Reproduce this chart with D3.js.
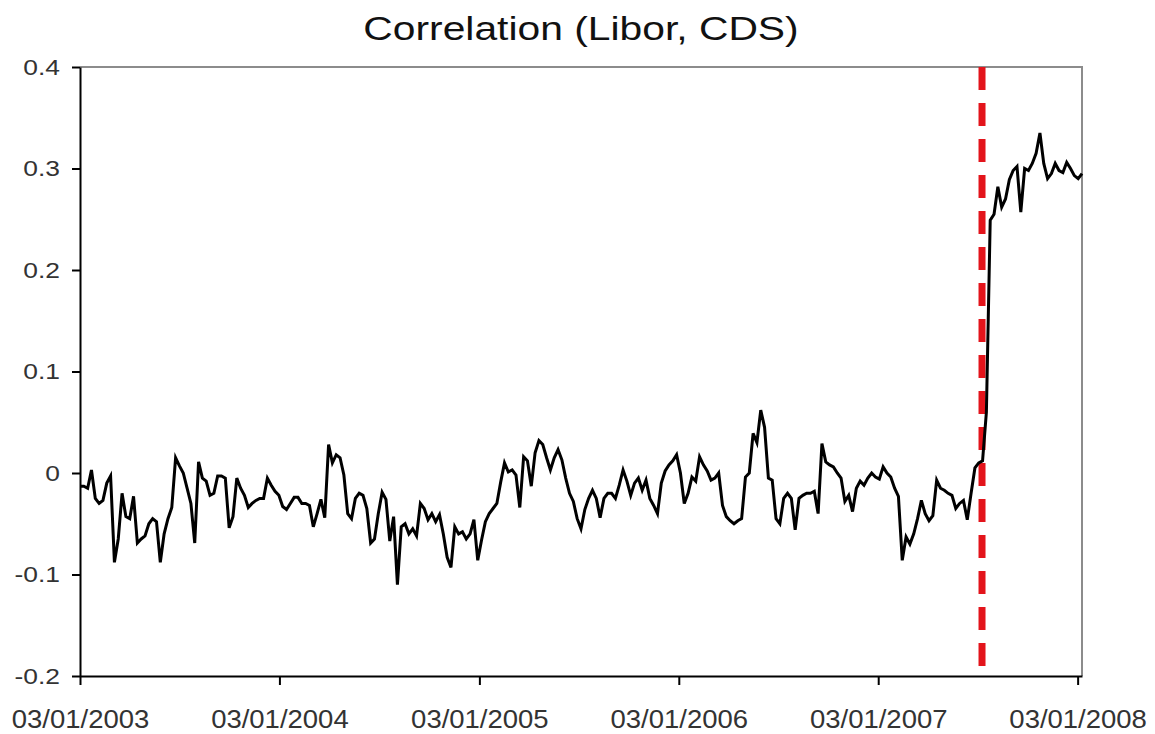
<!DOCTYPE html>
<html>
<head>
<meta charset="utf-8">
<script src="https://cdn.jsdelivr.net/npm/d3@7"></script>
<style>
  body { margin: 0; background: #fff; }
</style>
</head>
<body>
<div id="chart"></div>
<script>
const title = 'Correlation (Libor, CDS)';

// weekly observations, first one on 03/01/2003
const firstWeek = '2003-01-03';
const corr = [
  -0.013, -0.013, -0.015, 0.003, -0.025, -0.03, -0.027, -0.01, -0.003, -0.088,
  -0.065, -0.02, -0.043, -0.045, -0.023, -0.069, -0.065, -0.062, -0.05, -0.045,
  -0.048, -0.088, -0.06, -0.045, -0.034, 0.015, 0.007, 0.0, -0.015, -0.03,
  -0.069, 0.011, -0.005, -0.008, -0.022, -0.02, -0.003, -0.003, -0.005, -0.054,
  -0.043, -0.005, -0.015, -0.022, -0.034, -0.03, -0.027, -0.025, -0.025, -0.005,
  -0.012, -0.018, -0.022, -0.033, -0.036, -0.03, -0.024, -0.024, -0.03, -0.03,
  -0.032, -0.053, -0.04, -0.026, -0.044, 0.028, 0.01, 0.018, 0.015, -0.002,
  -0.04, -0.045, -0.025, -0.02, -0.022, -0.035, -0.069, -0.065, -0.04, -0.019,
  -0.026, -0.067, -0.043, -0.11, -0.053, -0.05, -0.06, -0.055, -0.062, -0.03,
  -0.035, -0.046, -0.04, -0.048, -0.041, -0.06, -0.083, -0.093, -0.053, -0.06,
  -0.058, -0.065, -0.06, -0.046, -0.086, -0.066, -0.048, -0.04, -0.035, -0.03,
  -0.009, 0.01, 0.001, 0.003, -0.002, -0.034, 0.016, 0.012, -0.013, 0.02,
  0.032, 0.028, 0.015, 0.003, 0.015, 0.023, 0.013, -0.005, -0.02, -0.028,
  -0.045, -0.055, -0.036, -0.025, -0.017, -0.025, -0.044, -0.025, -0.02, -0.02,
  -0.025, -0.012, 0.003, -0.008, -0.022, -0.01, -0.005, -0.017, -0.007, -0.025,
  -0.032, -0.04, -0.01, 0.002, 0.008, 0.012, 0.018, 0.0, -0.03, -0.02,
  -0.004, -0.008, 0.016, 0.008, 0.002, -0.007, -0.005, 0.0, -0.032, -0.043,
  -0.047, -0.05, -0.047, -0.045, -0.004, 0.0, 0.039, 0.03, 0.062, 0.045,
  -0.005, -0.007, -0.045, -0.05, -0.025, -0.02, -0.025, -0.056, -0.025, -0.022,
  -0.02, -0.02, -0.018, -0.04, 0.029, 0.011, 0.008, 0.006, 0.0, -0.005,
  -0.028, -0.022, -0.038, -0.015, -0.008, -0.012, -0.005, 0.0, -0.004, -0.006,
  0.006, 0.0, -0.004, -0.015, -0.023, -0.086, -0.063, -0.07, -0.06, -0.045,
  -0.027, -0.04, -0.047, -0.042, -0.007, -0.015, -0.017, -0.02, -0.022, -0.035,
  -0.03, -0.027, -0.046, -0.02, 0.005, 0.01, 0.012, 0.06, 0.249, 0.255,
  0.282, 0.262, 0.27, 0.289, 0.298, 0.302, 0.257, 0.3, 0.298, 0.305,
  0.315, 0.335, 0.305, 0.29, 0.295, 0.305, 0.298, 0.296, 0.306, 0.3,
  0.293, 0.29, 0.295
];

const xTicks = ['2003-01-03', '2004-01-03', '2005-01-03', '2006-01-03', '2007-01-03', '2008-01-03'];
const yTicks = [-0.2, -0.1, 0, 0.1, 0.2, 0.3, 0.4];
const breakDate = '2007-07-12';

let width = 1155,
    height = 734,
    plotLeft = 80,
    plotRight = 1082,
    plotTop = 67,
    plotBottom = 676;

const parse = d3.timeParse('%Y-%m-%d');
const start = parse(firstWeek);
const data = corr.map((v, i) => ({ date: d3.timeDay.offset(start, 7 * i), value: v }));

let x = d3.scaleTime()
    .domain([start, data[data.length - 1].date])
    .range([plotLeft, plotRight]);

let y = d3.scaleLinear()
    .domain([-0.2, 0.4])
    .range([plotBottom, plotTop]);

// plain hyphen for negatives, like the original
const fmt = d3.formatLocale({ decimal: '.', thousands: ',', grouping: [3], currency: ['', ''], minus: '-' }).format('.1f');

const svg = d3.select('#chart')
    .append('svg')
        .attr('width', width)
        .attr('height', height)
        .style('background', '#fff')
        .style('font-family', 'Arial, "Liberation Sans", sans-serif');

// title
svg.append('text')
    .attr('transform', `translate(${(plotLeft + plotRight) / 2},40) scale(1.2,1)`)
    .attr('text-anchor', 'middle')
    .attr('font-size', 34)
    .style('fill', '#111')
    .text(title);

// top and right frame in grey
svg.append('path')
    .attr('d', `M${plotLeft},${plotTop}H${plotRight}V${plotBottom}`)
    .attr('fill', 'none')
    .attr('stroke', '#8c8c8c')
    .attr('stroke-width', 2);

// red dashed marker
svg.append('line')
    .attr('x1', x(parse(breakDate)))
    .attr('x2', x(parse(breakDate)))
    .attr('y1', plotTop)
    .attr('y2', plotBottom)
    .attr('stroke', '#e3141b')
    .attr('stroke-width', 7)
    .attr('stroke-dasharray', '23 13');

// correlation line
svg.append('path')
    .datum(data)
    .attr('fill', 'none')
    .attr('stroke', '#000')
    .attr('stroke-width', 3)
    .attr('d', d3.line()
        .x(d => x(d.date))
        .y(d => y(d.value)));

// y axis
const yAxis = svg.append('g')
    .attr('transform', `translate(${plotLeft},0)`)
    .call(d3.axisLeft(y)
        .tickValues(yTicks)
        .tickSize(8)
        .tickSizeOuter(0)
        .tickFormat(d => d === 0 ? '0' : fmt(d)));

yAxis.select('.domain').attr('stroke-width', 2);
yAxis.selectAll('.tick line').attr('stroke-width', 2);
yAxis.selectAll('.tick text')
    .attr('font-size', 22)
    .attr('fill', '#333')
    .attr('x', -20 / 1.2)
    .attr('transform', 'scale(1.2,1)');

// x axis
const xAxis = svg.append('g')
    .attr('transform', `translate(0,${plotBottom})`)
    .call(d3.axisBottom(x)
        .tickValues(xTicks.map(parse))
        .tickSize(9)
        .tickSizeOuter(0)
        .tickFormat(d3.timeFormat('%d/%m/%Y')));

xAxis.select('.domain').attr('stroke-width', 2);
xAxis.selectAll('.tick line').attr('stroke-width', 2);
xAxis.selectAll('.tick text')
    .attr('font-size', 25)
    .attr('fill', '#333')
    .attr('y', 52)
    .attr('dy', 0)
    .attr('transform', 'scale(1.1,1)');
</script>
</body>
</html>
